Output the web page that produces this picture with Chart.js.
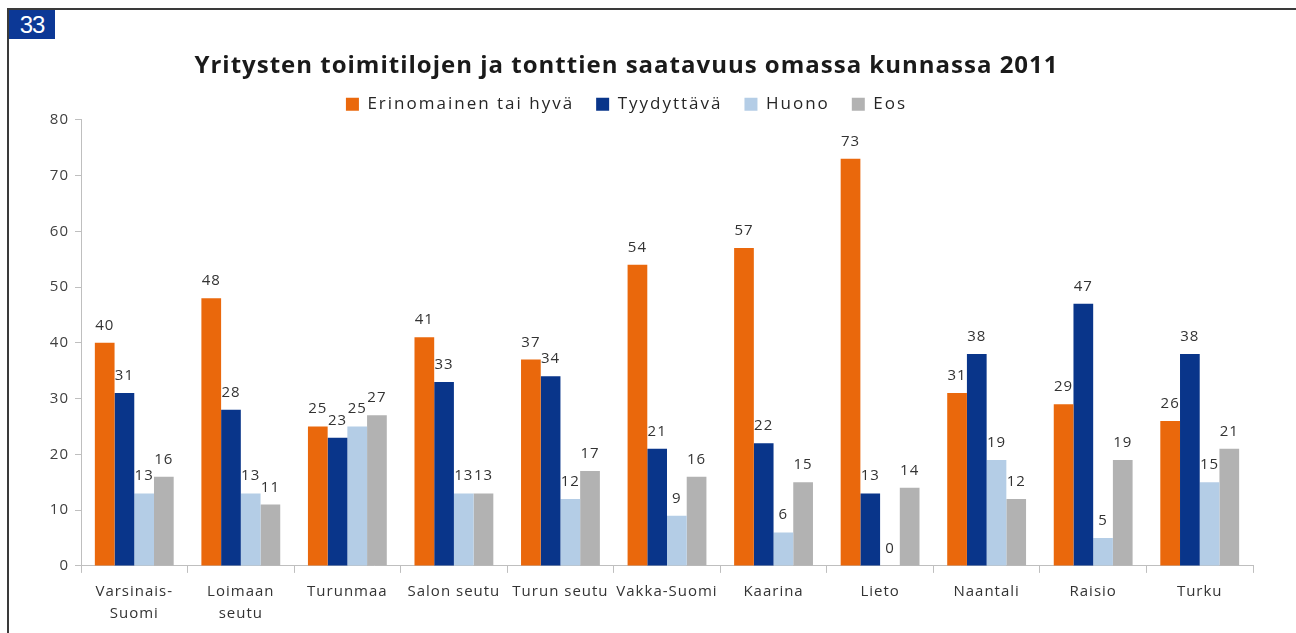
<!DOCTYPE html>
<html>
<head>
<meta charset="utf-8">
<script src="https://cdn.jsdelivr.net/npm/chart.js@4.4.0/dist/chart.umd.min.js"></script>
<style>
  html, body { margin: 0; padding: 0; background: #fff; }
  #wrap { position: relative; width: 1296px; height: 633px; overflow: hidden; }
  #myChart { display: block; }
  #frame { position: absolute; left: 7px; top: 8px; right: -4px; bottom: -4px;
           border-top: 2px solid #3a3a3a; border-left: 2px solid #3a3a3a; pointer-events: none; }
  #badge { position: absolute; left: 9px; top: 10px; width: 46px; height: 29px;
           background: #0c3896; color: #fff; font: 24px "Liberation Sans", Arial, sans-serif;
           line-height: 29px; text-align: center; letter-spacing: -1px; }
</style>
</head>
<body>
<div id="wrap">
  <canvas id="myChart" width="1296" height="633"></canvas>
  <div id="frame"></div>
  <div id="badge">33</div>
</div>
<script>
// chart values
const categories = [['Varsinais-', 'Suomi'], ['Loimaan', 'seutu'], 'Turunmaa', 'Salon seutu', 'Turun seutu',
  'Vakka-Suomi', 'Kaarina', 'Lieto', 'Naantali', 'Raisio', 'Turku'];
const seriesNames = ['Erinomainen tai hyvä', 'Tyydyttävä', 'Huono', 'Eos'];
const erinomainen = [40, 48, 25, 41, 37, 54, 57, 73, 31, 29, 26];
const tyydyttava = [31, 28, 23, 33, 34, 21, 22, 13, 38, 47, 38];
const huono = [13, 13, 25, 13, 12, 9, 6, 0, 19, 5, 15];
const eos = [16, 11, 27, 13, 17, 16, 15, 14, 12, 19, 21];
const yTicks = [0, 10, 20, 30, 40, 50, 60, 70, 80];

const colors = ['rgb(234,104,12)', 'rgb(9,53,138)', 'rgb(180,205,230)', 'rgb(178,178,178)'];
const font = '"Open Sans", "Liberation Sans", sans-serif';

// a little letter spacing, like the original print (legend gets a bit more)
const spacing = {
  id: 'spacing',
  afterInit(chart) {
    const lg = chart.legend;
    if (!lg) return;
    const fit = lg.fit, draw = lg.draw;
    lg.fit = function () {
      const ctx = chart.ctx, prev = ctx.letterSpacing;
      ctx.letterSpacing = '2px';
      fit.apply(this, arguments);
      ctx.letterSpacing = prev;
    };
    lg.draw = function () {
      const ctx = chart.ctx, prev = ctx.letterSpacing;
      const bottom = this.bottom;
      this.bottom = bottom + 14; // room for the shifted text
      ctx.save();
      ctx.letterSpacing = '2px';
      ctx.translate(0, -9);
      draw.apply(this, arguments);
      ctx.restore();
      this.bottom = bottom;
      ctx.letterSpacing = prev;
    };
  },
  beforeLayout(chart) { chart.ctx.letterSpacing = '1px'; },
  beforeDraw(chart) { chart.ctx.letterSpacing = '1px'; }
};

// value labels on top of the bars
const valueLabels = {
  id: 'valueLabels',
  afterDatasetsDraw(chart) {
    const ctx = chart.ctx;
    ctx.save();
    ctx.font = '15px ' + font;
    ctx.fillStyle = '#333';
    ctx.textAlign = 'center';
    ctx.textBaseline = 'alphabetic';
    chart.data.datasets.forEach((ds, i) => {
      chart.getDatasetMeta(i).data.forEach((bar, j) => {
        ctx.fillText(String(ds.data[j]), bar.x, bar.y - 13);
      });
    });
    ctx.restore();
  }
};

const data = {
  labels: categories,
  datasets: [erinomainen, tyydyttava, huono, eos].map((vals, i) => ({
    label: seriesNames[i],
    data: vals,
    backgroundColor: colors[i],
    borderWidth: 0,
    categoryPercentage: 0.74,
    barPercentage: 1
  }))
};

const config = {
  type: 'bar',
  data,
  options: {
    responsive: false,
    animation: false,
    layout: { padding: { top: 52, right: 43, bottom: 0, left: 0 } },
    plugins: {
      title: {
        display: true,
        text: 'Yritysten toimitilojen ja tonttien saatavuus omassa kunnassa 2011',
        color: '#1a1a1a',
        font: { family: font, size: 24, weight: 'bold', lineHeight: 1.2 },
        padding: { top: 0, bottom: 2 }
      },
      legend: {
        maxHeight: 37,
        labels: {
          color: '#262626',
          font: { family: font, size: 17 },
          boxWidth: 13,
          boxHeight: 13,
          padding: 22
        }
      },
      tooltip: { enabled: false }
    },
    scales: {
      x: {
        grid: { drawOnChartArea: false, tickLength: 7, color: '#bfbfbf', offset: true },
        border: { color: '#bfbfbf' },
        ticks: { color: '#333', font: { family: font, size: 15, lineHeight: 1.47 }, padding: 8, maxRotation: 0 }
      },
      y: {
        min: 0,
        max: 80,
        afterBuildTicks(scale) { scale.ticks = yTicks.map(v => ({ value: v })); },
        afterFit(scale) { scale.width = 81; },
        grid: { drawOnChartArea: false, tickLength: 6, color: '#bfbfbf' },
        border: { color: '#bfbfbf' },
        ticks: { color: '#404040', font: { family: font, size: 15 }, padding: 6 }
      }
    }
  },
  plugins: [spacing, valueLabels]
};

const myChart = new Chart(document.getElementById('myChart'), config);
</script>
</body>
</html>
